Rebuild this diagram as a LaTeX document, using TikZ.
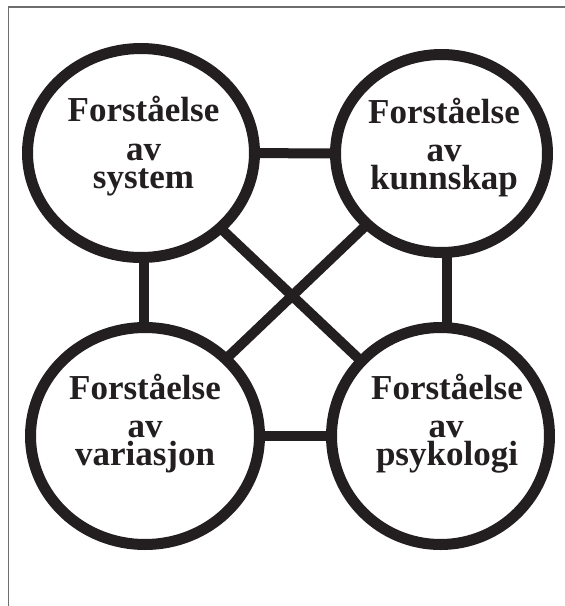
\documentclass[tikz,border=0pt]{standalone}
\usepackage{fontspec}
\setmainfont{Liberation Serif}
\usetikzlibrary{shapes.geometric,backgrounds}
\definecolor{ink}{HTML}{231F20}
\definecolor{framegray}{HTML}{6E6E6E}
\begin{document}
\begin{tikzpicture}[x=1pt,y=-1pt,
  ring/.style={ellipse, draw=ink, line width=11pt, fill=white, inner sep=0pt},
  link/.style={draw=ink, line width=10pt},
  lbl/.style={font=\bfseries\fontsize{35}{35}\selectfont, text=ink, anchor=base, inner sep=0pt}]
\useasboundingbox (0,0) rectangle (565,606);
\draw[framegray, line width=1.5pt] (565,7) -- (8.5,7) -- (8.5,606);
% circles
\node[ring, minimum width=227pt, minimum height=209pt] (tl) at (141,153) {};
\node[ring, minimum width=212pt, minimum height=198pt] (tr) at (441.5,153.5) {};
\node[ring, minimum width=229pt, minimum height=217pt] (bl) at (145,436) {};
\node[ring, minimum width=218pt, minimum height=217pt] (br) at (440.5,436) {};
% connectors behind the circles
\begin{scope}[on background layer]
\draw[link] (tl.center) -- (tr.center);
\draw[link] (bl.center) -- (br.center);
\draw[link] ([xshift=3pt]tl.center) -- ([xshift=-1pt]bl.center);
\draw[link] ([xshift=5.5pt]tr.center) -- ([xshift=6.5pt]br.center);
\draw[link] (tl.center) -- (br.center);
\draw[link] (tr.center) -- (bl.center);
\end{scope}
% labels
\node[lbl] (tl1) at (143.5,121.7) {Forståelse};
\node[lbl] (tl2) at (143.5,160) {av};
\node[lbl] (tl3) at (143.5,188) {system};
\node[lbl] (tr1) at (444,123) {Forståelse};
\node[lbl] (tr2) at (444,161) {av};
\node[lbl] (tr3) at (444,189) {kunnskap};
\node[lbl] (bl1) at (145,399) {Forståelse};
\node[lbl] (bl2) at (145,437) {av};
\node[lbl] (bl3) at (145,465) {variasjon};
\node[lbl] (br1) at (447,399) {Forståelse};
\node[lbl] (br2) at (446,437) {av};
\node[lbl] (br3) at (447,465) {psykologi};
\end{tikzpicture}
\end{document}
